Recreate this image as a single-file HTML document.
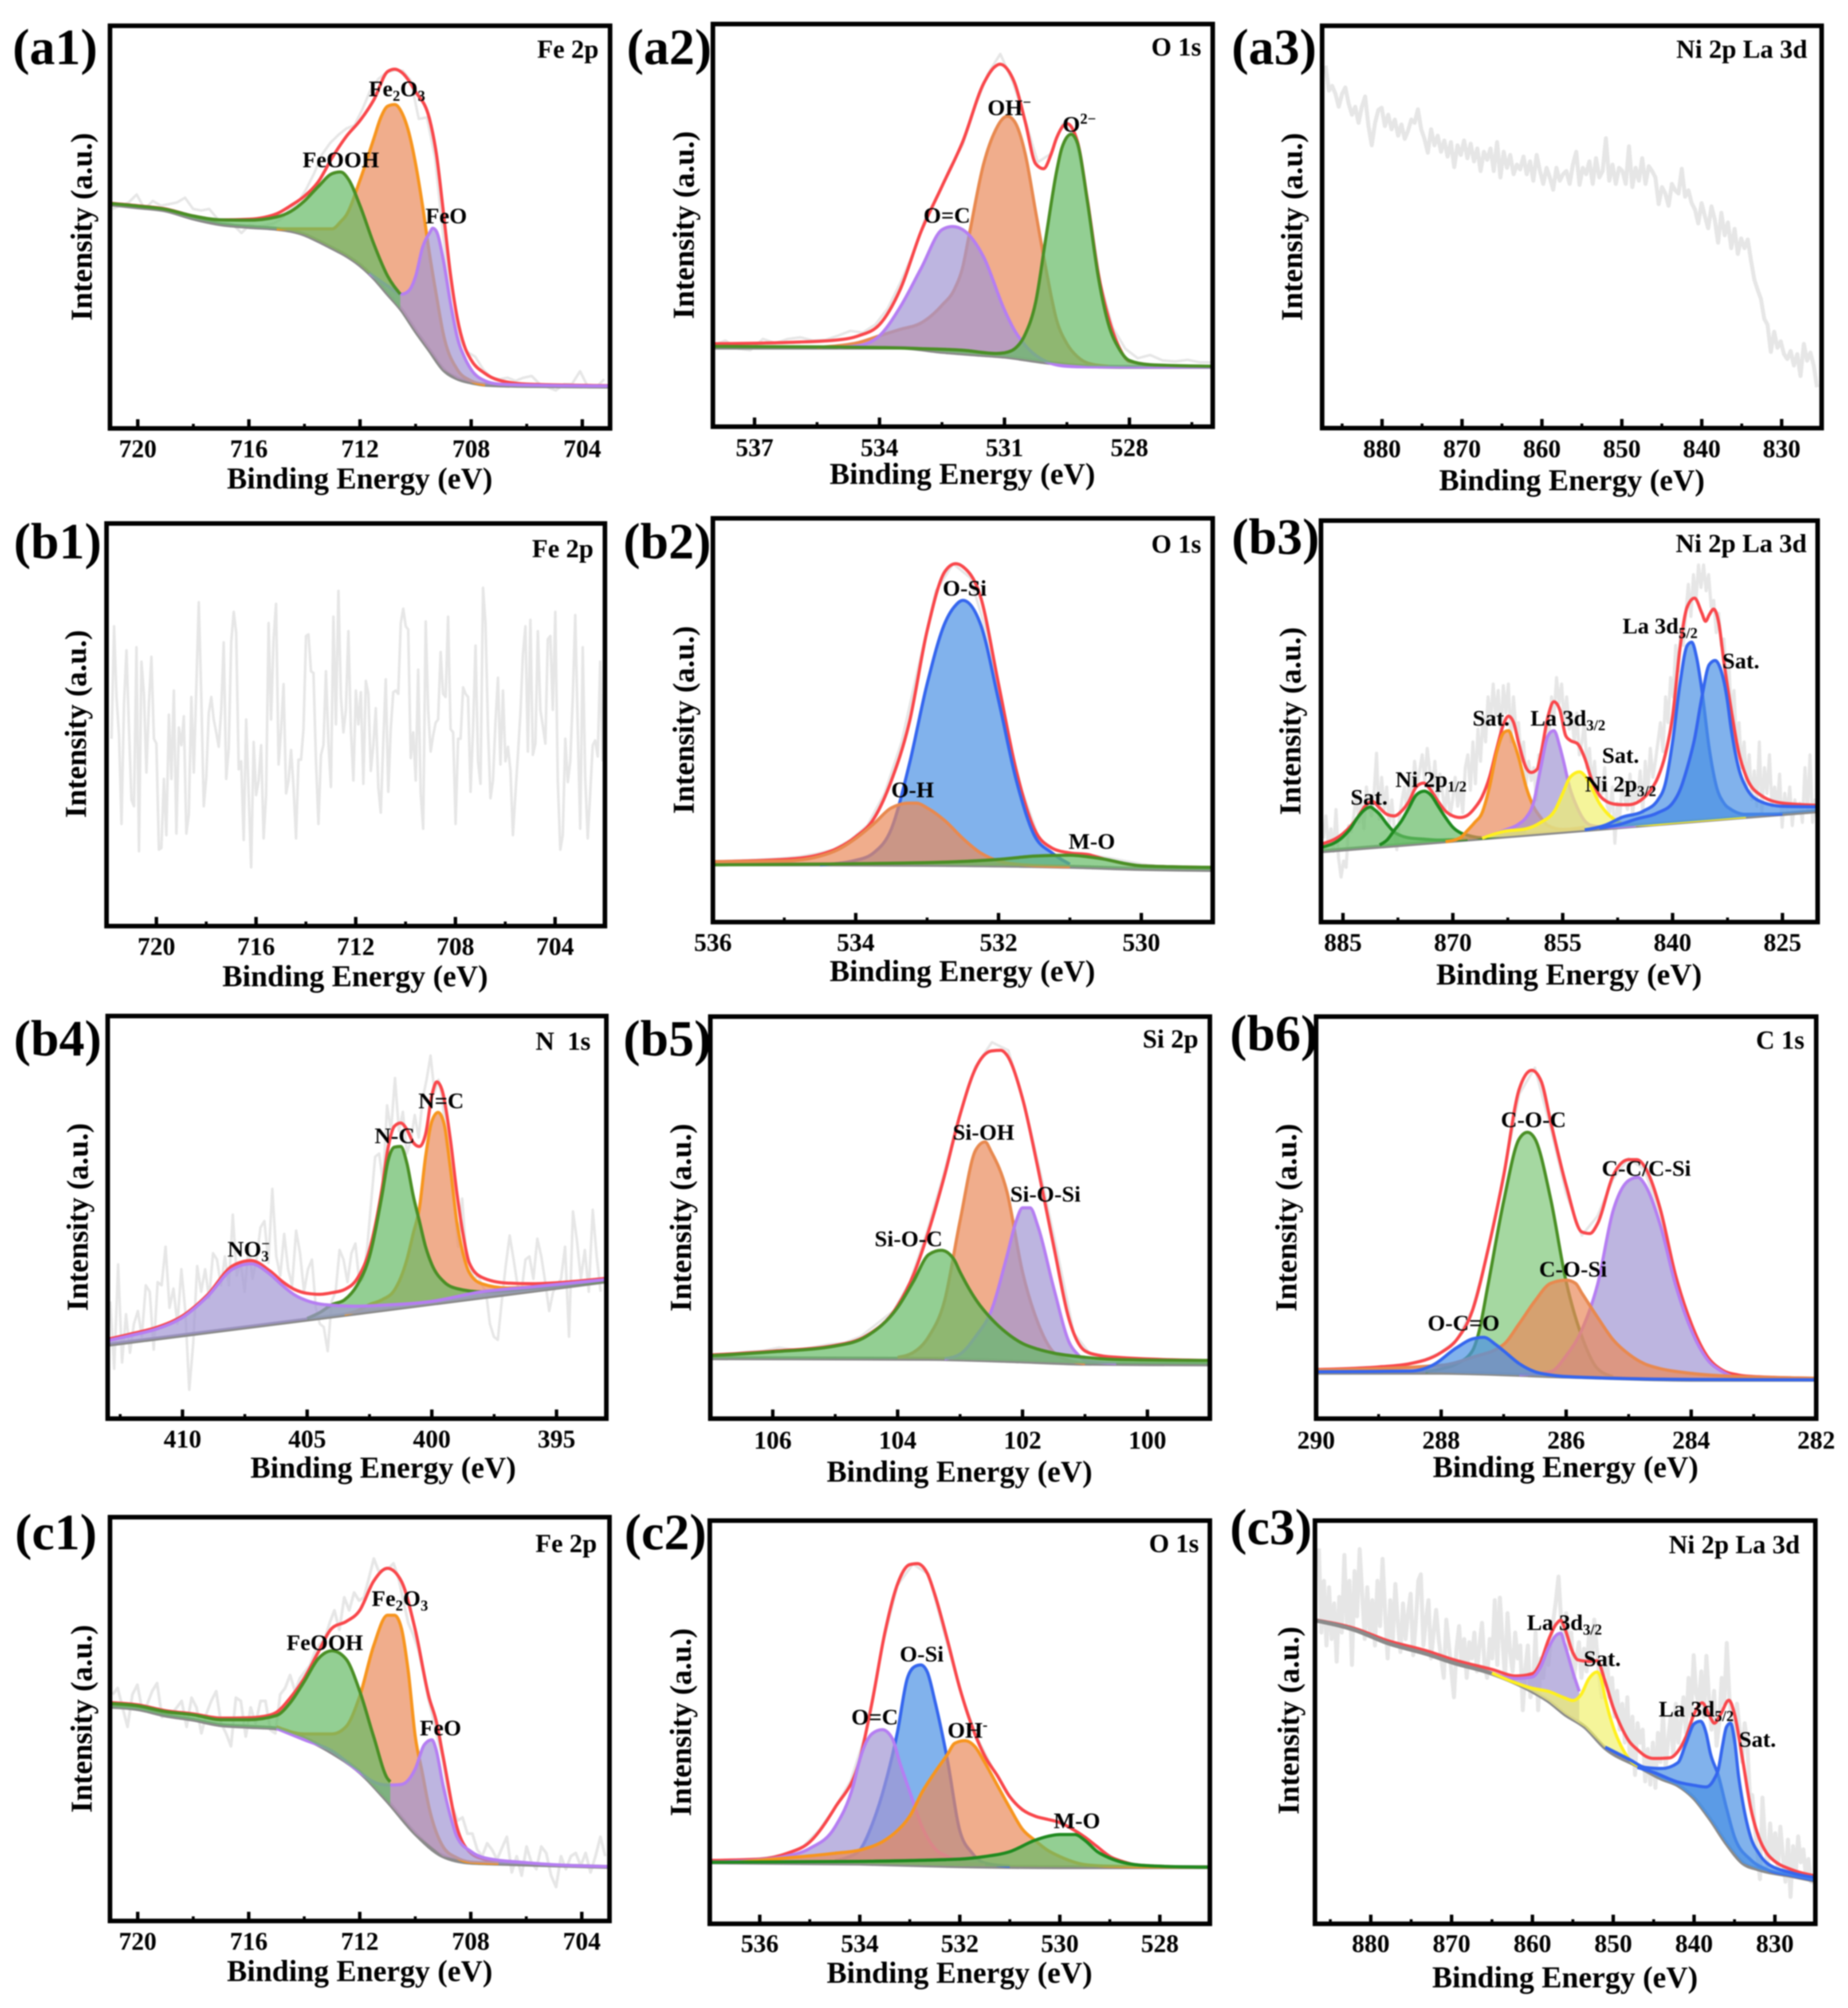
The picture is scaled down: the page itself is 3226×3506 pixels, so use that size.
<!DOCTYPE html>
<html lang="en">
<head>
<meta charset="utf-8">
<title>XPS spectra panels</title>
<style>
html,body{margin:0;padding:0;background:#fff;width:3226px;height:3506px;overflow:hidden}
svg#figure{display:block;filter:blur(1px)}
text{font-family:"Liberation Serif",serif;font-weight:bold;fill:#000}
.letter{font-size:89px}
.xt{font-size:52.5px;text-anchor:middle}
.yt{font-size:52.5px;text-anchor:middle}
.el{font-size:45.5px;text-anchor:end}
.pk{font-size:39.5px;text-anchor:middle}
.tick{font-size:44px;text-anchor:middle}
.frame{fill:none;stroke:#000;stroke-width:8}
</style>
</head>
<body>
<svg id="figure" xmlns="http://www.w3.org/2000/svg" width="3226" height="3506" viewBox="0 0 3226 3506">
<rect x="0" y="0" width="3226" height="3506" fill="#fff"/>
<defs id="clips"></defs>

<g>
<g id="a1-plot"></g>
<rect id="a1-frame" class="frame" x="192" y="45" width="873" height="703"/>
<g id="a1-axis"></g>
<text class="letter" x="22" y="112">(a1)</text>
<text class="el" x="1045" y="101">Fe 2p</text>
<text class="xt" x="628" y="853">Binding Energy (eV)</text>
<text class="yt" transform="translate(160 396) rotate(-90)">Intensity (a.u.)</text>
<text class="pk" x="595" y="292">FeOOH</text>
<text class="pk" x="693" y="168">Fe<tspan dy="8" font-size="26">2</tspan><tspan dy="-8">O</tspan><tspan dy="8" font-size="26">3</tspan></text>
<text class="pk" x="779" y="390">FeO</text>
</g>

<g>
<g id="a2-plot"></g>
<rect id="a2-frame" class="frame" x="1244.5" y="42" width="872.5" height="703"/>
<g id="a2-axis"></g>
<text class="letter" x="1094" y="112">(a2)</text>
<text class="el" x="2097" y="97">O 1s</text>
<text class="xt" x="1680" y="845">Binding Energy (eV)</text>
<text class="yt" transform="translate(1211 393) rotate(-90)">Intensity (a.u.)</text>
<text class="pk" x="1653" y="389">O=C</text>
<text class="pk" x="1762" y="201">OH<tspan dy="-14" font-size="26">−</tspan></text>
<text class="pk" x="1884" y="230">O<tspan dy="-14" font-size="26">2−</tspan></text>
</g>

<g>
<g id="a3-plot"></g>
<rect id="a3-frame" class="frame" x="2308" y="45" width="872" height="702.5"/>
<g id="a3-axis"></g>
<text class="letter" x="2150" y="112">(a3)</text>
<text class="el" x="3155" y="101">Ni 2p La 3d</text>
<text class="xt" x="2744" y="856">Binding Energy (eV)</text>
<text class="yt" transform="translate(2273 396) rotate(-90)">Intensity (a.u.)</text>
</g>

<g>
<g id="b1-plot"></g>
<rect id="b1-frame" class="frame" x="186" y="914" width="870" height="703"/>
<g id="b1-axis"></g>
<text class="letter" x="24" y="975">(b1)</text>
<text class="el" x="1036" y="973">Fe 2p</text>
<text class="xt" x="620" y="1722">Binding Energy (eV)</text>
<text class="yt" transform="translate(150 1264) rotate(-90)">Intensity (a.u.)</text>
</g>

<g>
<g id="b2-plot"></g>
<rect id="b2-frame" class="frame" x="1244.5" y="905" width="872.5" height="705"/>
<g id="b2-axis"></g>
<text class="letter" x="1088" y="975">(b2)</text>
<text class="el" x="2097" y="965">O 1s</text>
<text class="xt" x="1680" y="1713">Binding Energy (eV)</text>
<text class="yt" transform="translate(1211 1257) rotate(-90)">Intensity (a.u.)</text>
<text class="pk" x="1684" y="1040">O-Si</text>
<text class="pk" x="1593" y="1392">O-H</text>
<text class="pk" x="1906" y="1482">M-O</text>
</g>

<g>
<g id="b3-plot"></g>
<rect id="b3-frame" class="frame" x="2306" y="909" width="867" height="701"/>
<g id="b3-axis"></g>
<text class="letter" x="2150" y="967">(b3)</text>
<text class="el" x="3154" y="964">Ni 2p La 3d</text>
<text class="xt" x="2739" y="1719">Binding Energy (eV)</text>
<text class="yt" transform="translate(2270 1259) rotate(-90)">Intensity (a.u.)</text>
<text class="pk" x="2898" y="1106">La 3d<tspan dy="8" font-size="26">5/2</tspan></text>
<text class="pk" x="3039" y="1167">Sat.</text>
<text class="pk" x="2603" y="1267">Sat.</text>
<text class="pk" x="2737" y="1267">La 3d<tspan dy="8" font-size="26">3/2</tspan></text>
<text class="pk" x="2829" y="1332">Sat.</text>
<text class="pk" x="2829" y="1382">Ni 2p<tspan dy="8" font-size="26">3/2</tspan></text>
<text class="pk" x="2498" y="1374">Ni 2p<tspan dy="8" font-size="26">1/2</tspan></text>
<text class="pk" x="2390" y="1405">Sat.</text>
</g>

<g>
<g id="b4-plot"></g>
<rect id="b4-frame" class="frame" x="188" y="1774" width="870.5" height="703"/>
<g id="b4-axis"></g>
<text class="letter" x="24" y="1843">(b4)</text>
<text class="el" x="1031" y="1833" xml:space="preserve">N  1s</text>
<text class="xt" x="669" y="2580">Binding Energy (eV)</text>
<text class="yt" transform="translate(153 2125) rotate(-90)">Intensity (a.u.)</text>
<text class="pk" x="434" y="2194">NO<tspan dy="8" font-size="26">3</tspan><tspan dx="-13" dy="-22" font-size="26">−</tspan></text>
<text class="pk" x="689" y="1996">N-C</text>
<text class="pk" x="770" y="1935">N=C</text>
</g>

<g>
<g id="b5-plot"></g>
<rect id="b5-frame" class="frame" x="1240" y="1775" width="872" height="702"/>
<g id="b5-axis"></g>
<text class="letter" x="1088" y="1843">(b5)</text>
<text class="el" x="2092" y="1829">Si 2p</text>
<text class="xt" x="1675" y="2587">Binding Energy (eV)</text>
<text class="yt" transform="translate(1206 2126) rotate(-90)">Intensity (a.u.)</text>
<text class="pk" x="1586" y="2176">Si-O-C</text>
<text class="pk" x="1717" y="1990">Si-OH</text>
<text class="pk" x="1825" y="2098">Si-O-Si</text>
</g>

<g>
<g id="b6-plot"></g>
<rect id="b6-frame" class="frame" x="2297.5" y="1775" width="873" height="702"/>
<g id="b6-axis"></g>
<text class="letter" x="2147" y="1834">(b6)</text>
<text class="el" x="3150" y="1831">C 1s</text>
<text class="xt" x="2733" y="2579">Binding Energy (eV)</text>
<text class="yt" transform="translate(2263 2126) rotate(-90)">Intensity (a.u.)</text>
<text class="pk" x="2677" y="1968">C-O-C</text>
<text class="pk" x="2874" y="2053">C-C/C-Si</text>
<text class="pk" x="2746" y="2229">C-O-Si</text>
<text class="pk" x="2555" y="2323">O-C=O</text>
</g>

<g>
<g id="c1-plot"></g>
<rect id="c1-frame" class="frame" x="192" y="2649" width="872" height="705"/>
<g id="c1-axis"></g>
<text class="letter" x="26" y="2705">(c1)</text>
<text class="el" x="1042" y="2710">Fe 2p</text>
<text class="xt" x="628" y="3459">Binding Energy (eV)</text>
<text class="yt" transform="translate(160 3001) rotate(-90)">Intensity (a.u.)</text>
<text class="pk" x="567" y="2881">FeOOH</text>
<text class="pk" x="698" y="2804">Fe<tspan dy="8" font-size="26">2</tspan><tspan dy="-8">O</tspan><tspan dy="8" font-size="26">3</tspan></text>
<text class="pk" x="769" y="3030">FeO</text>
</g>

<g>
<g id="c2-plot"></g>
<rect id="c2-frame" class="frame" x="1239" y="2655" width="873" height="704"/>
<g id="c2-axis"></g>
<text class="letter" x="1090" y="2705">(c2)</text>
<text class="el" x="2093" y="2710">O 1s</text>
<text class="xt" x="1675" y="3462">Binding Energy (eV)</text>
<text class="yt" transform="translate(1206 3007) rotate(-90)">Intensity (a.u.)</text>
<text class="pk" x="1527" y="3011">O=C</text>
<text class="pk" x="1609" y="2901">O-Si</text>
<text class="pk" x="1689" y="3034">OH<tspan dy="-14" font-size="26">-</tspan></text>
<text class="pk" x="1880" y="3192">M-O</text>
</g>

<g>
<g id="c3-plot"></g>
<rect id="c3-frame" class="frame" x="2295.5" y="2655" width="873.5" height="704"/>
<g id="c3-axis"></g>
<text class="letter" x="2147" y="2696">(c3)</text>
<text class="el" x="3142" y="2712">Ni 2p La 3d</text>
<text class="xt" x="2732" y="3470">Binding Energy (eV)</text>
<text class="yt" transform="translate(2267 3004) rotate(-90)">Intensity (a.u.)</text>
<text class="pk" x="2731" y="2846">La 3d<tspan dy="8" font-size="26">3/2</tspan></text>
<text class="pk" x="2797" y="2909">Sat.</text>
<text class="pk" x="2961" y="2997">La 3d<tspan dy="8" font-size="26">5/2</tspan></text>
<text class="pk" x="3068" y="3050">Sat.</text>
</g>
</svg>

<script>
/* ---------- a1 : Fe 2p ---------- */
const a1Ticks = [720,716,712,708,704];
const a1Minor = [718,714,710,706];
const a1Raw = [683,693,703,728,683,708,693,698,703,718,683,678,683,653,643,633,608,633,628,633,638,653,683,703,743,793,853,888,913,933,943,993,1053,1088,1108,1115,1113,1083,963,968,843,603,383,283,238,223,183,158,153,158,148,158,163,138,128,118,138,138,178,128,128,153];
const a1Background = [[721,697],[720,688],[719,678],[718,653],[717,635],[716,627],[715,621],[714.5,615],[714,603],[713.5,583],[713,561],[712.5,538],[712,508],[711.5,468],[711,418],[710.5,368],[710,303],[709.5,243],[709,183],[708.5,155],[708,143],[707.5,136],[706,132],[703,130]];
const a1Envelope = [[721,701],[720,693],[719,683],[718,661],[717,649],[716,651],[715,668],[714.5,693],[714,723],[713.5,768],[713,843],[712.5,908],[712,958],[711.5,1023],[711,1111],[710.75,1118],[710.5,1108],[710,1048],[709.5,963],[709.25,853],[709,673],[708.75,483],[708.5,343],[708.25,258],[708,213],[707.5,171],[707,150],[706,138],[703,133]];
const a1Fe2O3 = [[715,621],[713.5,621],[713,621],[712.7,643],[712.5,663],[712,773],[711.5,903],[711.25,968],[711,1003],[710.75,1008],[710.5,983],[710.25,923],[710,823],[709.75,693],[709.5,543],[709.25,413],[709,293],[708.5,183],[708,148],[707.5,136]];
const a1FeO = [[711.66,483],[711,443],[710.5,418],[710.25,428],[710,473],[709.75,563],[709.5,608],[709.38,623],[709.25,613],[709,523],[708.75,393],[708.5,283],[708.25,223],[708,183],[707.5,148],[707,138],[706,135],[703,132]];
const a1FeOOH = [[721,700],[720,692],[719,682],[718,661],[717,649],[716,648],[715,658],[714.5,675],[714,708],[713.5,753],[713,793],[712.7,798],[712.4,773],[712,693],[711.5,573],[711,473],[710.55,418]];

/* ---------- a2 : O 1s ---------- */
const a2Ticks = [537,534,531,528];
const a2Minor = [535.5,532.5,529.5,526.5];
const a2Raw = [253,268,243,238,273,260,273,278,268,270,283,298,293,318,368,448,538,648,718,808,878,998,1098,1160,1073,953,823,848,943,903,708,448,308,243,213,223,206,203,208,200,200];
const a2Background = [[538,246],[535,246],[533.5,246],[532.5,233],[531.5,223],[531,218],[530,200],[529,188],[528,186],[526,186]];
const a2Envelope = [[538,258],[536,263],[535,270],[534.5,283],[534,318],[533.5,428],[533,608],[532.5,748],[532,888],[531.5,1068],[531.25,1118],[531.11,1128],[530.88,1103],[530.75,1068],[530.5,948],[530.25,818],[530.06,803],[529.88,848],[529.75,898],[529.5,943],[529.25,888],[529,698],[528.75,478],[528.5,338],[528.25,248],[528,203],[527,188],[526,186]];
const a2OH = [[535.5,247],[535,252],[534.5,262],[534,283],[533.5,303],[533,323],[532.5,378],[532.2,428],[532,498],[531.86,588],[531.5,818],[531.25,913],[530.93,966],[530.75,948],[530.5,848],[530.25,668],[530,488],[529.75,333],[529.5,258],[529.25,218],[529,198],[528.5,188]];
const a2OC = [[535,247],[534.5,252],[534,283],[533.5,373],[533,493],[532.5,613],[532.25,623],[532,613],[531.5,528],[531,363],[530.75,298],[530.5,253],[530,203],[529.5,188],[529,186],[526,186]];
const a2O2 = [[538,250],[535,248],[533,243],[532,238],[531.2,228],[531,230],[530.75,243],[530.5,288],[530.25,388],[530,593],[529.75,793],[529.62,868],[529.4,910],[529.25,883],[529,693],[528.75,468],[528.5,318],[528.25,243],[528,206],[527.5,193],[526,188]];

/* ---------- a3 : Ni 2p La 3d ---------- */
const a3Ticks = [880,870,860,850,840,830];
const a3Minor = [885,875,865,855,845,835,825];
const a3Raw = [1128,1050,1065,1040,1000,1040,1060,1010,975,1000,950,1000,1032,940,880,950,990,997,940,975,930,960,910,945,900,925,960,950,992,930,900,857,930,880,910,860,895,845,890,812,880,850,895,840,885,830,870,800,860,835,870,800,890,780,860,810,850,790,820,805,845,790,830,770,850,800,760,810,780,742,810,770,790,800,760,820,860,757,810,790,830,760,840,780,800,902,770,820,760,810,800,760,877,750,810,770,840,760,815,800,780,697,750,730,692,760,740,730,807,720,740,700,680,637,700,660,622,690,650,577,670,600,640,560,620,542,590,560,587,520,462,430,402,340,322,237,300,250,270,230,215,240,195,230,162,262,210,235,195,127];

/* ---------- b1 : Fe 2p ---------- */
const b1Ticks = [720,716,712,708,704];
const b1Minor = [718,714,710,706];
const b1Raw = [583,933,713,593,318,693,858,613,393,373,868,233,823,723,478,693,838,583,568,238,243,458,283,658,458,733,288,618,563,653,288,348,713,478,743,1008,713,373,463,663,713,643,603,558,673,883,458,553,883,978,913,488,513,268,643,413,183,573,408,453,563,273,408,943,643,893,1003,503,613,753,413,453,548,433,273,518,518,613,903,908,793,788,513,318,533,563,793,573,433,963,628,1043,713,603,673,918,613,453,733,628,728,443,763,723,483,563,678,433,353,573,768,418,613,728,733,723,943,988,933,923,523,603,453,798,413,303,948,673,543,593,633,643,853,723,713,963,613,603,318,583,583,743,723,713,418,613,873,513,443,1053,943,613,398,453,633,773,503,733,513,558,483,283,413,533,663,843,933,543,953,533,568,918,673,623,568,893,903,673,978,453,238,283,583,448,513,713,968,613,303,868,463,273,413,563,578,528,823,513];

/* ---------- b2 : O 1s ---------- */
const b2Ticks = [536,534,532,530];
const b2Minor = [535,533,531,529];
const b2Raw = [188,190,192,195,198,203,212,225,255,300,400,560,800,1030,1114,1070,890,620,410,260,222,212,208,200,190,180,174,172,170,168];
const b2Background = [[536,180],[533,178],[531,172],[530,165],[529,162]];
const b2Envelope = [[536,188],[535,195],[534.5,210],[534.25,230],[534,265],[533.75,320],[533.5,440],[533.25,620],[533,905],[532.75,1090],[532.6,1114],[532.5,1105],[532.25,1010],[532,740],[531.75,470],[531.5,290],[531.25,230],[531,215],[530.75,210],[530.5,195],[530,175],[529,170]];
const b2OSi = [[534.5,178],[534,192],[533.75,215],[533.5,290],[533.25,490],[533,740],[532.75,930],[532.6,985],[532.5,1000],[532.25,925],[532,690],[531.75,440],[531.5,270],[531.25,215],[531,180]];
const b2OH = [[536,188],[535,190],[534.5,205],[534.25,225],[534,260],[533.75,305],[533.5,355],[533.25,370],[533.15,370],[533,355],[532.75,315],[532.5,260],[532.25,215],[532,190],[531.75,180],[531,172]];
const b2MO = [[536,178],[533,185],[532,195],[531.5,205],[531,208],[530.75,203],[530.5,195],[530.25,183],[530,175],[529,170]];

/* ---------- b3 : Ni 2p La 3d ---------- */
const b3Ticks = [885,870,855,840,825];
const b3Minor = [877.5,862.5,847.5,832.5];
const b3Raw = [260,330,240,290,220,350,200,140,190,170,300,280,330,400,310,370,290,420,360,330,400,525,320,450,350,420,300,380,290,225,320,380,420,340,460,390,500,430,470,520,440,540,470,410,500,380,460,400,350,420,330,380,450,360,420,340,480,520,410,560,430,600,500,640,560,700,620,740,640,720,580,735,650,740,560,700,600,620,500,560,430,500,440,480,380,520,500,560,620,580,700,640,760,680,740,620,700,600,640,560,650,520,560,620,480,540,420,500,380,440,400,480,360,340,420,245,370,330,440,380,350,460,330,420,380,470,340,500,400,540,450,500,560,620,530,700,620,760,700,860,780,900,860,960,1050,950,1080,1000,1110,1040,1110,1030,1080,980,1000,900,960,860,880,760,800,640,720,560,620,480,560,420,520,380,470,360,560,340,480,400,520,360,420,360,460,295,400,340,420,300,380,340,370,310,480,340,520,310,380,300];
const b3Background = [[888,220],[870,253],[850,290],[830,327],[820,345]];
const b3Envelope = [[888,242],[885,275],[883,325],[882,360],[881,375],[880,355],[879,335],[878,330],[877,345],[876,375],[875,420],[874,432],[873,410],[872,375],[871,345],[870,330],[869,325],[868,332],[867,355],[866,390],[865,450],[864,540],[863,620],[862.4,640],[861.7,620],[861,555],[860,480],[859.3,465],[858.5,475],[858,520],[857,640],[856.2,685],[855.4,660],[854.6,580],[854,565],[853,555],[852,510],[851,440],[850,395],[849,375],[848,367],[847,365],[846,365],[845,370],[844,385],[843,410],[842,450],[841,520],[840,640],[839,850],[838,980],[837,1007],[836,960],[835.5,935],[835,955],[834.4,973],[833.7,930],[833,810],[832,660],[831,530],[830,455],[828,395],[825,370],[820,363]];
const b3Sat1 = [[888,232],[885,265],[884,290],[883,325],[882,350],[881.2,358],[881,355],[880,335],[879,305],[878,280],[877,268],[876,262],[874,258],[872,255],[868,258]];
const b3Ni1 = [[880,240],[879,255],[878,285],[877,315],[876,355],[875,395],[873.9,407],[873,395],[872,360],[871,325],[870,295],[869,278],[868,270],[866,262],[864,268],[860,280]];
const b3Sat2 = [[871,250],[869,262],[868,285],[867,310],[866,340],[865,420],[864,530],[863,590],[862.4,595],[861.7,560],[861,510],[860,420],[859,360],[858,325],[857,300],[855,288],[852,295]];
const b3La3 = [[866,262],[863,285],[861,305],[860,325],[859,370],[858,480],[857,580],[856.2,595],[855.4,545],[855,510],[854,415],[853,355],[852,315],[851,300],[849,295],[845,300]];
const b3Ni3 = [[866,261],[863,282],[860,290],[858,310],[856,350],[855,400],[854,450],[852.7,467],[852,455],[851,415],[850,370],[849,340],[848,320],[846,303],[843,304],[840,310],[830,328]];
const b3La5 = [[852,287],[849,303],[847,325],[844,345],[842,380],[841,430],[840,560],[839,740],[838,860],[837.4,870],[836.7,820],[836,720],[835,540],[834,420],[833,370],[832,350],[830,335],[825,336]];
const b3Sat3 = [[850,292],[847,305],[845,320],[842,340],[840,370],[839,410],[838,480],[837,570],[836,700],[835,800],[834.2,813],[833.5,790],[832.6,700],[832,600],[831,480],[830,420],[828,375],[825,360],[820,358]];

/* ---------- b4 : N 1s ---------- */
const b4Ticks = [410,405,400,395];
const b4Minor = [412.5,407.5,402.5,397.5];
const b4Raw = [365,155,480,175,325,205,295,335,255,415,395,215,425,415,535,345,405,295,465,335,90,235,475,395,465,375,515,495,415,505,415,635,445,485,395,535,435,495,595,615,485,715,505,445,575,465,415,585,515,395,465,495,345,295,285,210,365,395,525,495,425,515,545,425,435,535,675,815,825,735,975,895,1060,895,955,825,865,945,875,995,1055,1130,1015,1055,995,855,795,675,535,685,515,475,435,445,415,395,295,255,245,365,475,570,495,415,395,495,505,435,560,505,425,335,395,415,435,535,255,645,555,435,525,395,650,505,395];
const b4Background = [[413,230],[403,328],[393,427]];
const b4Envelope = [[413,247],[412,265],[411,285],[410,320],[409,385],[408,475],[407.25,492],[406.5,460],[406,427],[405.5,402],[405,390],[404.5,387],[404,392],[403.5,402],[403,435],[402.5,525],[402,715],[401.75,845],[401.5,910],[401.25,920],[401,900],[400.75,860],[400.5,847],[400.25,885],[400,1005],[399.8,1048],[399.6,1025],[399.25,865],[399,705],[398.75,575],[398.5,485],[398,440],[397,422],[396,420],[395,423],[393,437]];
const b4NDC = [[403.5,325],[403,335],[402.5,355],[402,370],[401.5,400],[401,495],[400.75,575],[400.5,655],[400.25,815],[400,925],[399.75,953],[399.5,915],[399.25,775],[399,615],[398.75,515],[398.5,455],[398,420],[397,407],[396,410],[393,433]];
const b4NC = [[405,312],[404.5,330],[404,355],[403.5,370],[403,415],[402.5,505],[402,695],[401.75,805],[401.5,845],[401.25,847],[401,795],[400.75,695],[400.5,615],[400.25,535],[400,480],[399.5,425],[399,405],[398,395],[396,405],[393,430]];
const b4NO3 = [[413,243],[412,260],[411,280],[410,315],[409,380],[408,465],[407.25,482],[406.5,450],[406,415],[405.5,385],[405,367],[404.5,357],[404,353],[403,350],[402,353],[400,365],[398,395],[396,410],[393,433]];

/* ---------- b5 : Si 2p ---------- */
const b5Ticks = [106,104,102,100];
const b5Minor = [105,103,101];
const b5Raw = [201,201,208,211,221,214,221,231,236,256,296,336,426,576,751,941,1096,1171,1146,976,756,516,266,201,191,186,184,184,182,180,180];
const b5Background = [[107,188],[103.5,186],[102,178],[101,171],[99,169]];
const b5Envelope = [[107,198],[106,210],[105,228],[104.5,258],[104,351],[103.75,446],[103.5,586],[103.25,756],[103,946],[102.75,1091],[102.5,1144],[102.35,1146],[102.25,1131],[102,996],[101.75,776],[101.5,536],[101.25,306],[101,211],[100.75,196],[100.5,191],[99,181]];
const b5SiOH = [[104,191],[103.75,206],[103.5,256],[103.25,366],[103,616],[102.75,836],[102.6,861],[102.5,830],[102.25,706],[102,456],[101.75,296],[101.5,206],[101.25,181],[101,171]];
const b5SiOSi = [[103.25,186],[103,201],[102.75,256],[102.5,336],[102.25,506],[102.1,616],[102,656],[101.88,656],[101.75,596],[101.5,406],[101.25,236],[101.12,201],[101,181],[100.5,172]];
const b5SiOC = [[107,196],[106,208],[105,226],[104.5,256],[104,346],[103.75,426],[103.5,511],[103.3,524],[103.1,496],[103,456],[102.75,371],[102.5,311],[102.25,266],[102,234],[101.75,216],[101.5,204],[101,191],[100.5,184],[99,181]];

/* ---------- b6 : C 1s ---------- */
const b6Ticks = [290,288,286,284,282];
const b6Minor = [289,287,285,283];
const b6Raw = [153,155,157,160,161,165,172,185,207,245,340,520,760,1010,1092,905,700,570,630,745,810,775,635,420,275,190,148,135,130,128,126,125,125];
const b6Background = [[290,143],[288,143],[286,131],[284,121],[282,121]];
const b6Envelope = [[290,153],[289,161],[288.5,171],[288,206],[287.75,246],[287.5,336],[287.25,526],[287,756],[286.75,1026],[286.55,1084],[286.4,1050],[286.25,926],[286,726],[285.75,581],[285.62,576],[285.5,606],[285.25,756],[285,806],[284.87,806],[284.75,786],[284.5,656],[284.25,446],[284,296],[283.75,196],[283.5,151],[283.25,136],[283,131],[282,126]];
const b6COC = [[288.25,146],[288,155],[287.75,171],[287.5,211],[287.4,266],[287.25,416],[287,676],[286.75,871],[286.62,891],[286.5,871],[286.25,686],[286,426],[285.75,256],[285.5,156],[285.25,131]];
const b6CC = [[286.75,137],[286.25,146],[286,196],[285.75,276],[285.5,416],[285.25,646],[285,741],[284.85,751],[284.75,731],[284.5,606],[284.25,416],[284,276],[283.75,186],[283.5,146],[283.25,125]];
const b6COSi = [[290,151],[288,166],[287.5,191],[287,231],[286.75,296],[286.5,366],[286.25,421],[286,431],[285.85,421],[285.75,391],[285.5,316],[285.25,246],[285,201],[284.75,171],[284.5,156],[284,141],[283.25,131],[282,126]];
const b6OCO = [[290,146],[288.5,148],[288.14,166],[287.75,221],[287.5,248],[287.32,253],[287.13,231],[287,211],[286.75,171],[286.5,146],[286.25,136],[286,131],[284,122],[282,121]];

/* ---------- c1 : Fe 2p ---------- */
const c1Ticks = [720,716,712,708,704];
const c1Minor = [718,714,710,706];
const c1Raw = [700,720,660,600,700,730,650,670,710,735,630,640,640,660,680,600,690,660,580,640,680,710,610,580,540,690,680,570,660,610,680,680,590,580,700,720,760,710,750,770,790,830,855,870,920,960,900,1000,960,1015,990,1000,1060,1120,1080,1085,1090,1105,1060,990,920,885,840,770,690,630,560,500,400,350,310,320,270,270,220,200,240,220,190,225,260,150,200,140,230,180,160,230,210,140,105,200,160,200,210,170,210,150,200,260,200];
const c1Background = [[721,662],[720,655],[719,635],[718,622],[717,605],[716,600],[715,595],[714,565],[713,520],[712,460],[711,370],[710,270],[709,200],[708,180],[707,177],[703,167]];
const c1Envelope = [[721,675],[720,668],[719,650],[718,640],[717,627],[716,628],[715.3,635],[715,645],[714.5,690],[714,750],[713.5,830],[713,905],[712.5,925],[712,960],[711.5,1050],[711,1090],[710.5,1050],[710,900],[709.5,690],[709.25,620],[709,510],[708.5,290],[708,210],[707.5,190],[707,182],[706,175],[703,168]];
const c1Fe2O3 = [[715,600],[714,578],[713,578],[712.5,600],[712,695],[711.5,850],[711,945],[710.75,945],[710.5,905],[710.25,770],[710,570],[709.75,460],[709.5,350],[709,230],[708.5,195],[708,182],[707,178]];
const c1FeO = [[715,595],[714,560],[713,525],[712,460],[711.5,430],[711,420],[710.5,422],[710,470],[709.67,545],[709.4,560],[709.25,530],[709,420],[708.75,330],[708.5,260],[708,215],[707.5,195],[706,180],[703,168]];
const c1FeOOH = [[721,672],[720,665],[719,647],[718,637],[717,622],[716,622],[715,635],[714.5,675],[714,740],[713.5,810],[713,835],[712.5,810],[712,710],[711.5,570],[711,440],[710.9,430]];

/* ---------- c2 : O 1s ---------- */
const c2Ticks = [536,534,532,530,528];
const c2Minor = [535,533,531,529];
const c2Raw = [196,197,198,200,207,218,240,290,358,440,590,850,1045,1112,1080,900,725,585,490,405,350,330,318,298,268,230,198,185,180,178,176,175,175];
const c2Background = [[537,190],[534,186],[532,178],[530,175],[527,175]];
const c2Envelope = [[537,196],[536,200],[535.45,218],[535,253],[534.5,358],[534,508],[533.75,688],[533.5,898],[533.25,1048],[533,1110],[532.85,1113],[532.65,1083],[532.5,1018],[532.25,878],[532,728],[531.75,608],[531.5,518],[531.25,458],[531,393],[530.75,353],[530.5,333],[530.25,323],[530,313],[529.75,293],[529.5,268],[529.25,238],[529,208],[528.75,193],[528.5,183],[528,178],[527,175]];
const c2OSi = [[534.5,195],[534.25,205],[534,228],[533.75,308],[533.5,428],[533.25,590],[533.05,758],[532.9,795],[532.78,800],[532.65,778],[532.5,690],[532.25,508],[532,288],[531.75,218],[531.5,188],[531,178]];
const c2OC = [[537,190],[536,198],[535.5,208],[535,233],[534.5,298],[534.13,428],[534,508],[533.75,588],[533.55,600],[533.35,573],[533.2,498],[533,408],[532.75,298],[532.5,233],[532.25,208],[532,193],[531.5,182]];
const c2OH = [[536.5,190],[535.5,203],[534.5,218],[534,228],[533.5,258],[533.25,288],[533,333],[532.75,408],[532.5,468],[532.25,523],[532.1,558],[531.9,566],[531.7,548],[531.5,498],[531.25,428],[531,358],[530.75,293],[530.5,258],[530.25,228],[530,208],[529.5,183],[529,178],[527,175]];
const c2MO = [[537,190],[534,193],[532,200],[531.5,208],[531,223],[530.5,258],[530.25,270],[530,276],[529.7,276],[529.5,258],[529.25,223],[529,203],[528.5,183],[528,178],[527,175]];

/* ---------- c3 : Ni 2p La 3d ---------- */
const c3Ticks = [880,870,860,850,840,830];
const c3Minor = [885,875,865,855,845,835,825];
const c3Raw = [1160,900,1060,860,1040,880,990,810,1010,900,1140,930,1060,800,1090,950,1158,1020,880,1040,900,1000,860,1060,920,1128,960,820,1000,880,1050,930,840,990,880,960,1020,830,930,1060,1080,860,940,1000,820,900,970,880,820,760,940,860,780,700,850,920,800,880,760,870,820,900,780,860,930,800,760,880,820,1000,800,1008,880,760,960,840,780,900,820,860,660,790,860,700,740,900,660,820,760,850,800,880,940,1000,1073,940,880,960,850,900,760,820,870,760,850,780,900,800,940,850,760,700,800,820,700,760,640,720,600,680,560,700,500,640,460,620,560,600,440,540,430,560,420,590,500,650,480,570,640,520,680,560,620,700,590,760,640,830,710,680,780,640,828,700,600,720,550,620,760,680,868,700,620,560,680,600,500,620,560,400,398,300,220,138,390,250,180,310,200,280,170,300,210,130,260,83,240,150,270,190,230,150,200,130,128];
const c3Background = [[887,938],[882,908],[878,868],[873,833],[870,808],[865,773],[860,718],[858,688],[856,648],[853.5,608],[851,543],[847,488],[844,448],[842,428],[840,388],[838,323],[836,248],[834,188],[832,168],[828,148],[825,133]];
const c3Envelope = [[887,940],[882,913],[878,876],[873,843],[870,818],[865,786],[862,766],[860,773],[859,808],[858,878],[857,928],[856.5,938],[856,913],[855,838],[854.4,816],[853,811],[852,813],[851,748],[850,668],[849,608],[848,563],[847,538],[846,518],[845,511],[843,513],[842,533],[841,578],[840,648],[839,683],[838,638],[837.5,620],[836.7,648],[835.7,691],[835,648],[834,508],[833,358],[832,268],[831,218],[830,193],[828,168],[825,148]];
const c3La3 = [[865,775],[862,758],[860,763],[859,793],[858,853],[857,893],[856.5,898],[856,863],[855,778],[854.2,718]];
const c3Sat1 = [[865,775],[860,728],[858,718],[856,698],[855,690],[854,708],[853,758],[852,778],[851.5,758],[851,698],[850,608],[849,548],[848,508],[846.5,485]];
const c3La5 = [[851,546],[848,508],[846,483],[844,480],[842,498],[841,558],[840,618],[839.2,626],[838.5,588],[838,528],[837,458],[836,358],[835,268],[833,198],[831,168],[828,150],[825,135]];
const c3Sat2 = [[847,483],[845,468],[842,438],[840,428],[838.5,423],[837.5,448],[837,478],[836.5,548],[836,608],[835.5,620],[835,568],[834.5,458],[834,378],[833,268],[832,218],[831,188],[828,158],[825,143]];

/* ---------- styles ---------- */
const GREEN = {stroke:'#4a8f25', fill:'#65ba65', op:0.7};
const LIGHTGREEN = {stroke:'#4a8f25', fill:'#7fc879', op:0.7};
const DARKGREEN = {stroke:'#1f8a1f', fill:'#65ba65', op:0.7};
const ORANGE = {stroke:'#f7951e', fill:'#ea8a5b', op:0.7};
const MUTEDORANGE = {stroke:'#e8894f', fill:'#ea8a5b', op:0.7};
const PURPLE = {stroke:'#b57ef2', fill:'#a195d3', op:0.7};
const BLUE = {stroke:'#3566ee', fill:'#4c91e4', op:0.7};
const YELLOW = {stroke:'#fff01e', fill:'#f1f16f', op:0.7};

/* ---------- panel wiring ---------- */
const panels = [
 {id:'a1',domain:[721,703],yMax:1253,ticks:a1Ticks,minor:a1Minor,tickY:798,raw:a1Raw,rawWidth:4.5,rawFrom:720.91,rawTo:703.21,bg:a1Background,env:a1Envelope,peaks:[['fe2o3-peak',a1Fe2O3,ORANGE],['feo-peak',a1FeO,PURPLE],['feooh-peak',a1FeOOH,GREEN]]},
 {id:'a2',domain:[538,526],yMax:1253,ticks:a2Ticks,minor:a2Minor,tickY:796,raw:a2Raw,rawWidth:4.5,rawFrom:538,rawTo:526,bg:a2Background,env:a2Envelope,peaks:[['oh-peak',a2OH,MUTEDORANGE],['oc-peak',a2OC,PURPLE],['o2-peak',a2O2,GREEN]]},
 {id:'a3',domain:[887.5,825],yMax:1252,ticks:a3Ticks,minor:a3Minor,tickY:798,raw:a3Raw,rawWidth:7,rawFrom:887.07,rawTo:825.58,bg:null,env:null,peaks:[]},
 {id:'b1',domain:[722,702],yMax:1253,ticks:b1Ticks,minor:b1Minor,tickY:1667,raw:b1Raw,rawWidth:4.5,rawFrom:721.8,rawTo:702.09,bg:null,env:null,peaks:[]},
 {id:'b2',domain:[536,529],yMax:1255,ticks:b2Ticks,minor:b2Minor,tickY:1660,raw:b2Raw,rawWidth:4.5,rawFrom:536,rawTo:529.03,bg:b2Background,env:b2Envelope,peaks:[['osi-peak',b2OSi,BLUE],['oh-peak',b2OH,MUTEDORANGE],['mo-peak',b2MO,GREEN]]},
 {id:'b3',domain:[888,820.2],yMax:1248,ticks:b3Ticks,minor:b3Minor,tickY:1660,raw:b3Raw,rawWidth:5.5,rawFrom:887.68,rawTo:820.2,bg:b3Background,env:b3Envelope,peaks:[['sat-peak-1',b3Sat1,DARKGREEN],['ni12-peak',b3Ni1,DARKGREEN],['sat-peak-2',b3Sat2,ORANGE],['la32-peak',b3La3,PURPLE],['ni32-peak',b3Ni3,YELLOW],['la52-peak',b3La5,BLUE],['sat-peak-3',b3Sat3,BLUE]]},
 {id:'b4',domain:[413,393],yMax:1253,ticks:b4Ticks,minor:b4Minor,tickY:2527,raw:b4Raw,rawWidth:4.5,rawFrom:412.9,rawTo:393.23,bg:b4Background,env:b4Envelope,peaks:[['ndc-peak',b4NDC,ORANGE],['nc-peak',b4NC,GREEN],['no3-peak',b4NO3,PURPLE]]},
 {id:'b5',domain:[107,99],yMax:1251,ticks:b5Ticks,minor:b5Minor,tickY:2529,raw:b5Raw,rawWidth:4.5,rawFrom:106.95,rawTo:99.08,bg:b5Background,env:b5Envelope,peaks:[['sioh-peak',b5SiOH,MUTEDORANGE],['siosi-peak',b5SiOSi,PURPLE],['sioc-peak',b5SiOC,GREEN]]},
 {id:'b6',domain:[290,282],yMax:1251,ticks:b6Ticks,minor:b6Minor,tickY:2529,raw:b6Raw,rawWidth:4.5,rawFrom:290,rawTo:282,bg:b6Background,env:b6Envelope,peaks:[['coc-peak',b6COC,LIGHTGREEN],['cc-peak',b6CC,PURPLE],['cosi-peak',b6COSi,MUTEDORANGE],['oco-peak',b6OCO,BLUE]]},
 {id:'c1',domain:[721,703],yMax:1248,ticks:c1Ticks,minor:c1Minor,tickY:3404,raw:c1Raw,rawWidth:5,rawFrom:720.9,rawTo:703.15,bg:c1Background,env:c1Envelope,peaks:[['fe2o3-peak',c1Fe2O3,ORANGE],['feo-peak',c1FeO,PURPLE],['feooh-peak',c1FeOOH,GREEN]]},
 {id:'c2',domain:[537,527],yMax:1246,ticks:c2Ticks,minor:c2Minor,tickY:3408,raw:c2Raw,rawWidth:4.5,rawFrom:537,rawTo:527,bg:c2Background,env:c2Envelope,peaks:[['osi-peak',c2OSi,BLUE],['oc-peak',c2OC,PURPLE],['oh-peak',c2OH,ORANGE],['mo-peak',c2MO,DARKGREEN]]},
 {id:'c3',domain:[886.9,825],yMax:1246,ticks:c3Ticks,minor:c3Minor,tickY:3408,raw:c3Raw,rawWidth:7,rawFrom:886.42,rawTo:825.23,bg:c3Background,env:c3Envelope,peaks:[['la32-peak',c3La3,PURPLE],['sat-peak-1',c3Sat1,YELLOW],['la52-peak',c3La5,BLUE],['sat-peak-2',c3Sat2,BLUE]]}
];

const NS = 'http://www.w3.org/2000/svg';

function monotonePath(pts){
  const n = pts.length;
  if(n < 2) return '';
  const h = [], s = [], t = new Array(n).fill(0);
  for(let i=0;i<n-1;i++){
    h[i] = pts[i+1][0]-pts[i][0];
    s[i] = (pts[i+1][1]-pts[i][1])/h[i];
  }
  for(let i=1;i<n-1;i++){
    const p = (s[i-1]*h[i]+s[i]*h[i-1])/(h[i-1]+h[i]);
    t[i] = (Math.sign(s[i-1])+Math.sign(s[i]))*Math.min(Math.abs(s[i-1]),Math.abs(s[i]),0.5*Math.abs(p));
  }
  t[0] = n>2 ? (3*s[0]-t[1])/2 : s[0];
  t[n-1] = n>2 ? (3*s[n-2]-t[n-2])/2 : s[n-2];
  let d = 'M'+pts[0][0].toFixed(1)+' '+pts[0][1].toFixed(1);
  for(let i=0;i<n-1;i++){
    const c = h[i]/3;
    d += 'C'+(pts[i][0]+c).toFixed(1)+' '+(pts[i][1]+c*t[i]).toFixed(1)+' '+(pts[i+1][0]-c).toFixed(1)+' '+(pts[i+1][1]-c*t[i+1]).toFixed(1)+' '+pts[i+1][0].toFixed(1)+' '+pts[i+1][1].toFixed(1);
  }
  return d;
}

function bgAt(bg, e){
  if(e >= bg[0][0]) return bg[0][1];
  for(let i=0;i<bg.length-1;i++){
    if(e <= bg[i][0] && e >= bg[i+1][0]){
      const f = (bg[i][0]-e)/(bg[i][0]-bg[i+1][0]);
      return bg[i][1]+f*(bg[i+1][1]-bg[i][1]);
    }
  }
  return bg[bg.length-1][1];
}

function addPath(parent, d, name, stroke, width, fill, fillOp){
  const el = document.createElementNS(NS,'path');
  el.setAttribute('d', d);
  el.setAttribute('stroke', stroke);
  el.setAttribute('stroke-width', width);
  el.setAttribute('fill', fill);
  if(fillOp) el.setAttribute('fill-opacity', fillOp);
  el.setAttribute('stroke-linejoin','round');
  
  
  parent.appendChild(el);
  return el;
}

function drawPanel(p){
  const rect = document.getElementById(p.id+'-frame');
  const L = +rect.getAttribute('x'), T = +rect.getAttribute('y');
  const W = +rect.getAttribute('width'), H = +rect.getAttribute('height');
  const R = L+W, B = T+H;
  const xScale = e => L+(p.domain[0]-e)/(p.domain[0]-p.domain[1])*W;
  const yScale = v => B-v/p.yMax*H;
  const toPx = arr => arr.map(q => [xScale(q[0]), yScale(q[1])]);

  const clip = document.createElementNS(NS,'clipPath');
  clip.setAttribute('id', p.id+'-clip');
  const cr = document.createElementNS(NS,'rect');
  cr.setAttribute('x', L);
  cr.setAttribute('y', T);
  cr.setAttribute('width', W);
  cr.setAttribute('height', H);
  clip.appendChild(cr);
  document.getElementById('clips').appendChild(clip);

  const plot = document.getElementById(p.id+'-plot');
  plot.setAttribute('clip-path','url(#'+p.id+'-clip)');

  /* raw survey trace */
  let rawD = '';
  p.raw.forEach((v,i) => {
    const e = p.rawFrom+(p.rawTo-p.rawFrom)*i/(p.raw.length-1);
    rawD += (i?'L':'M')+xScale(e).toFixed(1)+' '+yScale(v).toFixed(1);
  });
  addPath(plot, rawD, p.id+'-raw-spectrum', '#e6e6e6', p.rawWidth, 'none');

  if(p.env) addPath(plot, monotonePath(toPx(p.env)), p.id+'-fit-envelope', '#f9474b', 5.5, 'none');
  if(p.bg) addPath(plot, monotonePath(toPx(p.bg)), p.id+'-background', '#8a8a8a', 7, 'none');

  p.peaks.forEach(pk => {
    const data = pk[1], st = pk[2];
    const curve = monotonePath(toPx(data));
    const first = data[0][0], last = data[data.length-1][0];
    let close = 'L'+xScale(last).toFixed(1)+' '+yScale(bgAt(p.bg,last)).toFixed(1);
    for(let i=p.bg.length-1;i>=0;i--){
      const e = p.bg[i][0];
      if(e > last && e < first) close += 'L'+xScale(e).toFixed(1)+' '+yScale(p.bg[i][1]).toFixed(1);
    }
    close += 'L'+xScale(first).toFixed(1)+' '+yScale(bgAt(p.bg,first)).toFixed(1)+'Z';
    addPath(plot, curve+close, p.id+'-'+pk[0]+'-fill', 'none', 0, st.fill, st.op);
    addPath(plot, curve, p.id+'-'+pk[0]+'-line', st.stroke, 5.5, 'none');
  });

  /* ticks */
  const axis = document.getElementById(p.id+'-axis');
  p.ticks.forEach(t => {
    const x = xScale(t);
    if(x > L+6 && x < R-6){
      addPath(axis, 'M'+x.toFixed(1)+' '+B+'L'+x.toFixed(1)+' '+(B-16), p.id+'-major-tick', '#000', 6, 'none');
    }
    const label = document.createElementNS(NS,'text');
    label.setAttribute('class','tick');
    label.setAttribute('x', x.toFixed(1));
    label.setAttribute('y', p.tickY);
    
    
    label.textContent = String(t);
    axis.appendChild(label);
  });
  p.minor.forEach(t => {
    const x = xScale(t);
    if(x > L+6 && x < R-6){
      addPath(axis, 'M'+x.toFixed(1)+' '+B+'L'+x.toFixed(1)+' '+(B-8), p.id+'-minor-tick', '#000', 5, 'none');
    }
  });
}

panels.forEach(drawPanel);
</script>
</body>
</html>
